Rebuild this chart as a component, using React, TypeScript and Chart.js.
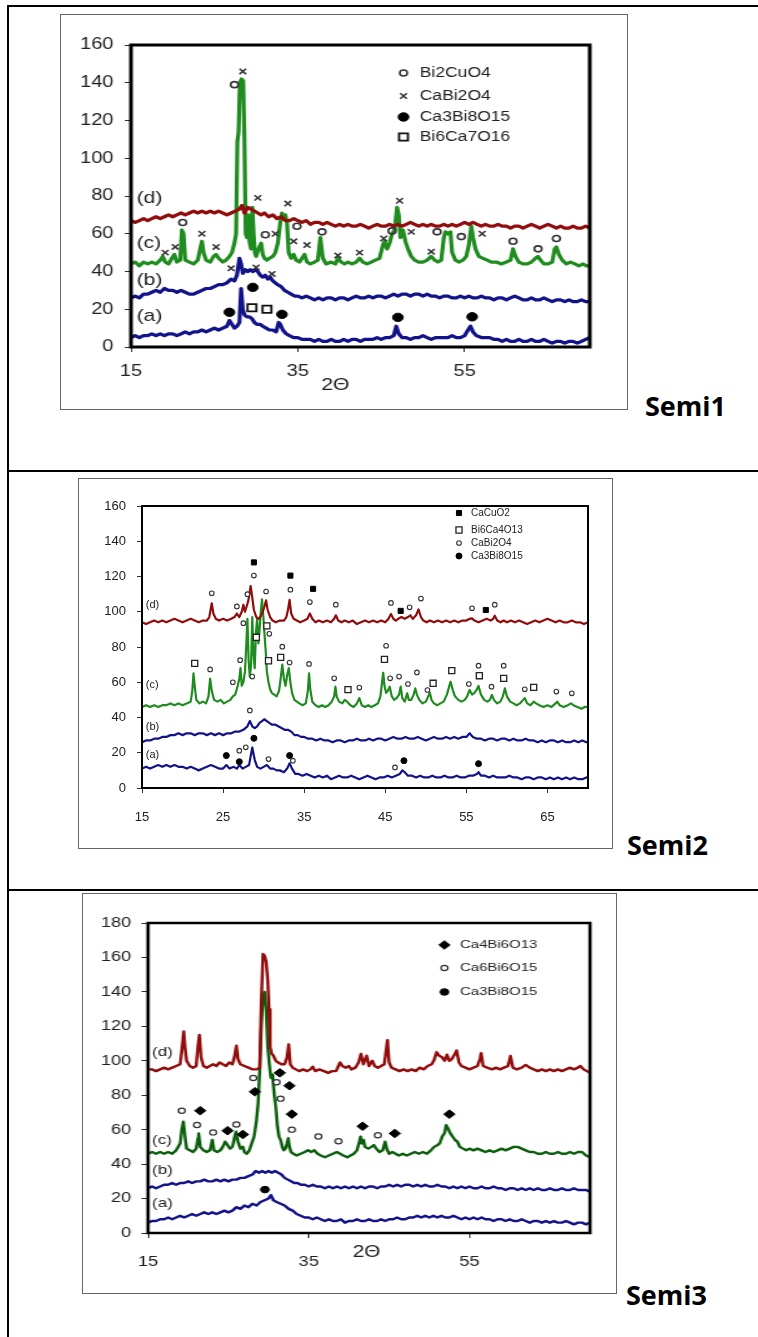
import { useEffect, useRef } from 'react';
import { Chart, registerables } from 'chart.js';
Chart.register(...registerables);

const FONT = '"Liberation Sans", Arial, Helvetica, sans-serif';

// ================= Semi1 data (x = 2θ, y = intensity) =================
const s1XTicks = [15, 35, 55];
const s1YTicks = [0, 20, 40, 60, 80, 100, 120, 140, 160];
const s1A = [15,5, 15.5,6, 16,5, 16.5,6, 17,6, 17.5,7, 18,6, 18.5,7, 19,6, 19.5,7, 20,7, 20.5,6, 21,7, 21.5,8, 22,7, 22.5,8, 23,8, 23.5,9, 24,8, 24.5,9, 25,10, 25.5,9, 26,10, 26.5,11, 26.8,14, 27.1,12, 27.4,10, 27.7,11, 28.0,13, 28.2,31, 28.4,20, 28.6,17, 28.9,16, 29.2,16, 29.5,15, 29.8,13, 30.1,12, 30.5,12, 30.8,11, 31.2,10, 31.6,9, 32.0,9, 32.4,8, 32.7,13, 32.9,12, 33.2,9, 33.6,7, 34,6, 34.5,5, 35,5, 35.5,4, 36,4, 36.5,4, 37,3, 37.5,4, 38,3, 38.5,3, 39,4, 39.5,3, 40,3, 40.5,4, 41,3, 41.5,4, 42,4, 42.5,3, 43,4, 43.5,4, 44,4, 44.5,5, 45,4, 45.5,5, 46,5, 46.5,6, 46.8,11, 47.1,7, 47.5,5, 48,5, 48.5,4, 49,5, 49.5,5, 50,6, 50.5,5, 51,4, 51.5,5, 52,5, 52.5,5, 53,5, 53.5,6, 54,5, 54.5,5, 55,6, 55.4,9, 55.7,11, 56.0,8, 56.4,6, 57,5, 57.5,5, 58,5, 58.5,4, 59,4, 59.5,3, 60,4, 60.5,3, 61,3, 61.5,4, 62,3, 62.5,3, 63,4, 63.5,3, 64,3, 64.5,4, 65,3, 65.5,2, 66,3, 66.5,3, 67,2, 67.5,3, 68,3, 68.5,2, 69,3, 69.5,4, 70,5];
const s1B = [15,26, 15.5,27, 16,26, 16.5,28, 17,28, 17.5,29, 18,30, 18.5,29, 19,31, 19.5,30, 20,30, 20.5,29, 21,30, 21.5,29, 22,28, 22.5,28, 23,29, 23.5,30, 24,31, 24.5,31, 25,32, 25.5,33, 26,33, 26.5,34, 27,36, 27.4,35, 27.7,38, 28.0,47, 28.2,44, 28.4,39, 28.7,41, 29.0,40, 29.3,41, 29.6,40, 29.9,41, 30.2,40, 30.5,38, 30.8,37, 31.1,38, 31.4,36, 31.7,37, 32.0,35, 32.3,34, 32.6,33, 33.0,32, 33.4,30, 33.8,29, 34.2,28, 34.6,27, 35,27, 35.5,26, 36,27, 36.5,26, 37,25, 37.5,26, 38,25, 38.5,26, 39,26, 39.5,25, 40,26, 40.5,26, 41,25, 41.5,26, 42,27, 42.5,26, 43,26, 43.5,27, 44,26, 44.5,27, 45,27, 45.5,26, 46,27, 46.5,28, 47,27, 47.5,28, 48,28, 48.5,27, 49,28, 49.5,28, 50,27, 50.5,28, 51,27, 51.5,27, 52,26, 52.5,27, 53,27, 53.5,26, 54,26, 54.5,27, 55,26, 55.5,27, 56,26, 56.5,26, 57,27, 57.5,26, 58,26, 58.5,25, 59,26, 59.5,26, 60,25, 60.5,26, 61,27, 61.5,26, 62,25, 62.5,25, 63,26, 63.5,25, 64,25, 64.5,26, 65,25, 65.5,24, 66,25, 66.5,25, 67,24, 67.5,25, 68,24, 68.5,24, 69,25, 69.5,24, 70,24];
const s1C = [15,44, 15.5,45, 16,43, 16.5,45, 17,44, 17.5,45, 18,44, 18.5,46, 18.8,48, 19.1,45, 19.5,44, 19.9,47, 20.2,49, 20.5,45, 20.9,46, 21.1,62, 21.3,60, 21.5,46, 22,45, 22.5,44, 23,46, 23.3,52, 23.5,56, 23.7,50, 24,46, 24.5,45, 24.9,48, 25.2,49, 25.5,47, 26,45, 26.4,46, 26.8,48, 27.1,50, 27.4,55, 27.6,60, 27.75,109, 27.9,114, 28.05,140, 28.25,142, 28.45,141, 28.6,110, 28.75,60, 28.9,58, 29.05,70, 29.2,56, 29.4,52, 29.55,74, 29.7,60, 29.85,50, 30.0,48, 30.3,52, 30.6,55, 30.8,49, 31.0,47, 31.3,46, 31.6,47, 32.0,48, 32.3,50, 32.6,55, 32.9,66, 33.1,71, 33.3,68, 33.5,70, 33.7,66, 33.9,50, 34.2,47, 34.5,49, 34.8,46, 35.2,45, 35.5,47, 35.8,49, 36.1,45, 36.5,44, 37,45, 37.4,46, 37.7,58, 38.0,47, 38.4,44, 39,45, 39.5,44, 39.8,47, 40.2,45, 40.6,44, 41,45, 41.5,44, 42,45, 42.4,47, 42.8,45, 43.3,44, 43.8,45, 44.3,46, 44.8,47, 45.2,54, 45.4,56, 45.7,52, 46.0,55, 46.3,60, 46.6,62, 46.9,74, 47.1,70, 47.3,58, 47.6,62, 47.9,56, 48.2,52, 48.6,48, 49,46, 49.5,45, 50,45, 50.5,46, 51,48, 51.4,46, 51.8,45, 52.2,46, 52.5,58, 52.7,61, 53.0,60, 53.3,61, 53.5,50, 53.9,46, 54.3,45, 54.8,46, 55.2,48, 55.5,54, 55.8,64, 56.0,58, 56.3,52, 56.7,48, 57.2,47, 57.7,46, 58.2,45, 58.8,45, 59.4,44, 60.0,45, 60.5,46, 60.8,52, 61.1,48, 61.5,45, 62,44, 62.5,44, 63,45, 63.5,47, 63.8,48, 64.1,46, 64.5,44, 65,44, 65.5,45, 65.8,52, 66.0,53, 66.3,49, 66.7,46, 67.2,44, 67.7,45, 68.2,44, 68.7,43, 69.2,44, 69.6,43, 70,43];
const s1D = [15,67, 15.5,66, 16,67, 16.5,68, 17,67, 17.5,68, 18,69, 18.5,68, 19,69, 19.5,70, 20,69, 20.5,70, 21,71, 21.5,70, 22,71, 22.5,72, 23,71, 23.5,72, 24,71, 24.5,72, 25,71, 25.5,72, 26,71, 26.5,70, 27,71, 27.5,72, 28,73, 28.3,75, 28.6,71, 29,74, 29.4,73, 29.8,72, 30.2,71, 30.6,70, 31,71, 31.5,69, 32,70, 32.5,68, 33,69, 33.5,67, 34,67, 34.5,68, 35,67, 35.5,66, 36,67, 36.5,65, 37,66, 37.5,66, 38,65, 38.5,66, 39,65, 39.5,64, 40,65, 40.5,64, 41,65, 41.5,64, 42,64, 42.5,65, 43,64, 43.5,63, 44,64, 44.5,65, 45,64, 45.5,64, 46,65, 46.5,64, 47,65, 47.5,64, 48,65, 48.5,66, 49,65, 49.5,64, 50,65, 50.5,64, 51,65, 51.5,64, 52,64, 52.5,65, 53,64, 53.5,65, 54,64, 54.5,65, 55,66, 55.5,65, 56,66, 56.5,65, 57,64, 57.5,65, 58,64, 58.5,64, 59,65, 59.5,64, 60,64, 60.5,63, 61,64, 61.5,64, 62,63, 62.5,64, 63,65, 63.5,64, 64,63, 64.5,64, 65,65, 65.5,64, 66,63, 66.5,64, 67,63, 67.5,63, 68,64, 68.5,63, 69,63, 69.5,64, 70,63];
const s1Bi2CuO4 = [21.2,66, 27.4,139, 31.1,59.5, 34.9,64, 37.9,61, 46.3,61.5, 51.7,61, 54.6,58.5, 60.8,56, 63.8,52, 66.0,57.5];
const s1CaBi2O4 = [19.1,50, 20.3,53, 23.5,60, 25.2,53, 28.4,146, 30.2,79, 32.3,60, 33.8,76, 34.5,56, 36.1,54, 39.8,48.5, 42.4,50, 45.3,57.5, 47.2,77.5, 48.6,61, 51.0,50.5, 57.1,60, 27.0,41.7, 30.0,42.2, 31.9,38.7];
const s1Ca3Bi8O15 = [26.8,18.4, 29.6,31.6, 33.1,17.3, 47.0,15.7, 55.9,16];
const s1Bi6Ca7O16 = [29.5,20.8, 31.3,20];

// ================= Semi2 data =================
const s2XTicks = [15, 25, 35, 45, 55, 65];
const s2YTicks = [0, 20, 40, 60, 80, 100, 120, 140, 160];
const s2A = [15,11, 15.5,12, 16,11, 16.5,12, 17,13, 17.5,12, 18,13, 18.5,12, 19,13, 19.5,12, 20,12, 20.5,11, 21,12, 21.5,11, 22,10, 22.5,11, 23,12, 23.5,13, 24,12, 24.5,11, 25,11, 25.4,13, 25.8,11, 26.3,12, 26.7,11, 27.0,13, 27.4,11, 27.8,12, 28.2,13, 28.6,23, 28.9,16, 29.2,12, 29.6,11, 30,12, 30.4,13, 30.8,11, 31.2,11, 31.6,10, 32,10, 32.5,9, 32.9,11, 33.2,14, 33.5,11, 33.9,8, 34.3,8, 34.8,7, 35.3,8, 35.8,7, 36.3,6, 36.8,7, 37.3,6, 37.8,7, 38.3,5, 38.8,6, 39.3,7, 39.8,6, 40.3,6, 40.8,7, 41.3,6, 41.8,5, 42.3,6, 42.8,7, 43.3,6, 43.8,5, 44.3,6, 44.8,6, 45.3,7, 45.8,6, 46.3,7, 46.8,8, 47.1,10, 47.4,9, 47.8,7, 48.3,7, 48.8,6, 49.3,7, 49.8,6, 50.3,6, 50.8,7, 51.3,6, 51.8,6, 52.3,7, 52.8,6, 53.3,6, 53.8,7, 54.3,6, 54.8,6, 55.3,7, 55.8,7, 56.3,8, 56.5,9, 56.8,7, 57.3,7, 57.8,6, 58.3,7, 58.8,6, 59.3,6, 59.8,6, 60.3,7, 60.8,6, 61.3,6, 61.8,5, 62.3,6, 62.8,6, 63.3,5, 63.8,6, 64.3,6, 64.8,5, 65.3,6, 65.8,5, 66.3,6, 66.8,5, 67.3,6, 67.8,5, 68.3,6, 68.8,5, 69.3,5, 69.8,6, 70,6];
const s2B = [15,26, 15.5,27, 16,27, 16.5,28, 17,28, 17.5,29, 18,29, 18.5,30, 19,30, 19.5,31, 20,30, 20.5,31, 21,31, 21.5,30, 22,31, 22.5,31, 23,30, 23.5,31, 24,30, 24.5,31, 25,30, 25.5,31, 26,31, 26.5,32, 27,32, 27.5,33, 28,35, 28.3,38, 28.6,35, 28.9,34, 29.2,35, 29.5,37, 29.8,38, 30.1,39, 30.4,38, 30.7,37, 31,36, 31.4,36, 31.8,35, 32.2,34, 32.6,33, 33,33, 33.4,32, 33.8,30, 34.2,30, 34.6,29, 35,29, 35.5,28, 36,28, 36.5,27, 37,28, 37.5,27, 38,27, 38.5,26, 39,27, 39.5,27, 40,26, 40.5,27, 41,27, 41.5,28, 42,27, 42.5,27, 43,28, 43.5,27, 44,28, 44.5,28, 45,27, 45.5,28, 46,29, 46.5,28, 47,28, 47.5,29, 48,28, 48.5,28, 49,29, 49.5,28, 50,27, 50.5,28, 51,29, 51.5,28, 52,28, 52.5,29, 53,28, 53.5,29, 54,28, 54.5,29, 55,29, 55.4,31, 55.8,29, 56.3,28, 56.8,28, 57.3,27, 57.8,28, 58.3,28, 58.8,27, 59.3,28, 59.8,28, 60.3,27, 60.8,28, 61.3,27, 61.8,27, 62.3,28, 62.8,27, 63.3,27, 63.8,26, 64.3,27, 64.8,26, 65.3,27, 65.8,27, 66.3,26, 66.8,27, 67.3,26, 67.8,26, 68.3,27, 68.8,26, 69.3,27, 69.8,26, 70,26];
const s2C = [15,46, 15.5,47, 16,46, 16.5,47, 17,46, 17.5,47, 18,47, 18.5,48, 19,47, 19.5,48, 20,47, 20.5,48, 21,49, 21.2,55, 21.35,65, 21.5,58, 21.7,50, 22.1,48, 22.5,49, 22.9,48, 23.2,52, 23.4,62, 23.6,55, 23.9,50, 24.3,49, 24.7,50, 25.1,48, 25.5,49, 25.9,50, 26.2,52, 26.5,53, 26.8,58, 27.0,62, 27.15,68, 27.3,58, 27.5,60, 27.7,66, 27.85,80, 28.0,96, 28.15,72, 28.3,63, 28.45,70, 28.6,97, 28.75,76, 28.9,68, 29.05,88, 29.2,96, 29.35,82, 29.5,90, 29.65,100, 29.8,107, 29.95,98, 30.1,88, 30.25,78, 30.4,66, 30.6,60, 30.8,56, 31.0,54, 31.3,53, 31.6,52, 31.9,55, 32.1,62, 32.3,70, 32.5,62, 32.7,58, 32.9,64, 33.1,68, 33.3,60, 33.5,54, 33.8,50, 34.1,49, 34.4,48, 34.8,47, 35.2,48, 35.45,55, 35.6,65, 35.75,56, 36.0,49, 36.4,47, 36.8,46, 37.2,47, 37.6,46, 38.0,47, 38.4,49, 38.7,52, 38.85,57.5, 39.0,52, 39.3,49, 39.7,48, 40.0,50, 40.3,49, 40.7,47, 41.1,46, 41.5,48, 41.8,51, 42.1,47, 42.5,46, 42.9,47, 43.3,46, 43.7,47, 44.1,48, 44.4,52, 44.6,60, 44.75,65.4, 44.9,58, 45.1,54, 45.3,55, 45.55,57.5, 45.8,52, 46.1,50, 46.4,51, 46.7,53, 46.9,57.5, 47.1,51, 47.4,49, 47.7,53.7, 47.9,50, 48.2,50, 48.5,53, 48.7,56.5, 48.9,53, 49.2,50, 49.6,48, 50.0,49, 50.3,52, 50.5,54, 50.7,50, 51.0,48, 51.4,47, 51.8,48, 52.2,49, 52.6,53, 52.9,58, 53.05,60.3, 53.3,56, 53.6,52, 54.0,50, 54.4,49, 54.8,50, 55.1,52, 55.4,55.6, 55.7,53, 56.0,54, 56.3,56, 56.5,57.9, 56.8,53, 57.2,50, 57.6,49, 57.9,50, 58.15,52.8, 58.4,50, 58.8,48, 59.2,49, 59.5,52, 59.75,56.5, 60.0,52, 60.4,49, 60.8,48, 61.2,47, 61.6,48, 62.0,50, 62.2,51, 62.5,48, 62.9,47, 63.3,49, 63.6,48, 64.0,47, 64.5,46, 65.0,47, 65.5,46, 66.0,48, 66.2,49, 66.5,47, 67.0,46, 67.5,47, 67.9,48, 68.2,47, 68.7,46, 69.2,45, 69.6,46, 70,46];
const s2D = [15,94, 15.5,93, 16,94, 16.5,95, 17,94, 17.5,95, 18,94, 18.5,95, 19,96, 19.5,95, 20,94, 20.5,95, 21,96, 21.5,95, 22,94, 22.5,95, 23,95, 23.3,97, 23.6,104.8, 23.8,99, 24.1,96, 24.5,95, 25,96, 25.5,95, 26,96, 26.4,97, 26.7,99, 27.0,97, 27.3,100, 27.5,104, 27.7,100, 27.9,103, 28.1,106, 28.4,114.6, 28.6,108, 28.8,101, 29.1,97, 29.4,96, 29.7,98, 29.9,100, 30.1,103, 30.3,106.5, 30.5,101, 30.8,97, 31.1,95, 31.5,94, 32,95, 32.5,95, 32.8,97, 33.0,101, 33.2,106.7, 33.4,99, 33.7,96, 34.1,95, 34.5,94, 35,95, 35.4,96, 35.7,99, 36.0,96, 36.4,94, 36.8,95, 37.3,94, 37.8,95, 38.3,94, 38.7,96, 38.9,98, 39.2,95, 39.6,94, 40,95, 40.5,94, 41,95, 41.5,93, 42,94, 42.5,95, 43,94, 43.5,95, 44,94, 44.5,95, 45,94, 45.4,96, 45.7,98.7, 46.0,96, 46.3,95, 46.6,96, 47.0,97, 47.4,96, 47.8,97, 48.1,98, 48.4,96, 48.8,98, 49.1,101.3, 49.4,97, 49.7,95, 50.1,94, 50.5,95, 51,94, 51.5,95, 52,94, 52.5,95, 53,94, 53.5,95, 54,94, 54.5,95, 55,95, 55.4,96, 55.7,96.2, 56.0,95, 56.5,94, 57,95, 57.5,96, 58,95, 58.3,96, 58.5,97.8, 58.8,95, 59.2,94, 59.6,95, 60,94, 60.5,95, 61,94, 61.5,95, 62,94, 62.5,93, 63,94, 63.5,95, 64,94, 64.5,95, 65,96, 65.5,95, 66,94, 66.5,95, 67,94, 67.5,94, 68,95, 68.5,94, 69,94, 69.5,93, 70,94];
const s2CaCuO2 = [28.8,128, 33.3,120.5, 36.1,113, 46.9,100.5, 57.4,101];
const s2Bi6Ca4O13 = [21.5,70.7, 29.1,85.5, 30.4,92, 30.6,72.2, 32.1,74.1, 40.4,55.8, 44.9,73, 50.9,59.4, 53.2,66.6, 56.6,63.7, 59.6,62.2, 63.3,57.1];
const s2CaBi2O4 = [23.6,110.5, 26.7,103, 28.0,110, 28.8,120.5, 30.3,111.5, 33.3,112.5, 35.7,105.5, 38.9,104, 45.7,105, 48.0,102.5, 49.4,107.5, 55.7,102, 58.5,104,
  23.4,67.3, 26.2,60, 27.1,72.5, 27.5,93.5, 28.6,63.2, 30.7,87.5, 32.3,80.2, 33.2,71.2, 35.6,70.4, 38.7,62.2, 41.8,57, 45.1,80.7, 45.6,62.2, 46.7,63.2, 47.8,59, 48.9,65.6, 50.2,55.6, 55.3,59, 56.5,69.4, 58.1,57.5, 59.6,69.4, 62.2,56, 66.1,54.7, 68.0,53.7,
  28.3,44, 27.0,21.2, 27.8,23.1, 30.6,16.4, 33.6,15.5, 46.2,11.7];
const s2Ca3Bi8O15 = [25.4,18.4, 27.0,14.9, 28.8,28.2, 33.2,18.4, 47.3,15.5, 56.5,13.8];

// ================= Semi3 data =================
const s3XTicks = [15, 35, 55];
const s3YTicks = [0, 20, 40, 60, 80, 100, 120, 140, 160, 180];
const s3A = [15,6, 15.5,7, 16,7, 16.5,8, 17,8, 17.5,9, 18,8, 18.5,9, 19,10, 19.5,9, 20,10, 20.5,11, 21,10, 21.5,11, 22,12, 22.5,11, 23,12, 23.5,11, 24,12, 24.5,13, 25,12, 25.5,13, 26,15, 26.5,14, 27,16, 27.5,15, 28,17, 28.5,16, 29,18, 29.5,19, 30,20, 30.3,22, 30.6,19, 31,18, 31.5,17, 32,16, 32.5,14, 33,13, 33.5,11, 34,10, 34.5,9, 35,9, 35.5,8, 36,9, 36.5,8, 37,7, 37.5,8, 38,7, 38.5,7, 39,8, 39.5,6, 40,7, 40.5,7, 41,8, 41.5,7, 42,7, 42.5,8, 43,7, 43.5,7, 44,8, 44.5,7, 45,8, 45.5,8, 46,9, 46.5,8, 47,8, 47.5,9, 48,9, 48.5,10, 49,9, 49.5,10, 50,9, 50.5,10, 51,9, 51.5,10, 52,9, 52.5,9, 53,10, 53.5,9, 54,8, 54.5,9, 55,8, 55.5,9, 56,8, 56.5,9, 57,8, 57.5,8, 58,7, 58.5,8, 59,8, 59.5,7, 60,8, 60.5,7, 61,7, 61.5,8, 62,7, 62.5,6, 63,7, 63.5,7, 64,6, 64.5,7, 65,6, 65.5,7, 66,6, 66.5,6, 67,7, 67.5,6, 68,5, 68.5,6, 69,6, 69.5,5, 70,6];
const s3B = [15,26, 15.5,27, 16,26, 16.5,27, 17,28, 17.5,28, 18,29, 18.5,28, 19,29, 19.5,29, 20,30, 20.5,29, 21,30, 21.5,30, 22,31, 22.5,30, 23,30, 23.5,31, 24,30, 24.5,31, 25,30, 25.5,31, 26,31, 26.5,32, 27,32, 27.5,33, 28,34, 28.4,36, 28.8,35, 29.2,36, 29.6,35, 30,36, 30.4,35, 30.8,36, 31.2,35, 31.6,34, 32,32, 32.4,31, 32.8,30, 33.2,29, 33.6,29, 34,28, 34.5,28, 35,27, 35.5,28, 36,27, 36.5,27, 37,26, 37.5,27, 38,26, 38.5,27, 39,26, 39.5,27, 40,26, 40.5,27, 41,26, 41.5,27, 42,26, 42.5,27, 43,27, 43.5,26, 44,27, 44.5,27, 45,28, 45.5,27, 46,28, 46.5,27, 47,28, 47.5,28, 48,27, 48.5,28, 49,27, 49.5,28, 50,27, 50.5,27, 51,28, 51.5,27, 52,27, 52.5,26, 53,27, 53.5,26, 54,27, 54.5,26, 55,27, 55.5,26, 56,26, 56.5,27, 57,26, 57.5,26, 58,27, 58.5,26, 59,26, 59.5,25, 60,26, 60.5,26, 61,25, 61.5,26, 62,25, 62.5,26, 63,25, 63.5,26, 64,25, 64.5,25, 65,26, 65.5,25, 66,25, 66.5,26, 67,25, 67.5,25, 68,26, 68.5,25, 69,25, 69.5,25, 70,24];
const s3C = [15,46, 15.5,47, 16,46, 16.5,47, 17,46, 17.5,47, 18,46, 18.5,48, 19.0,52, 19.2,60, 19.4,64.6, 19.6,56, 19.8,49, 20.2,48, 20.6,47, 21.0,49, 21.2,55, 21.3,57.8, 21.5,50, 21.9,48, 22.3,47, 22.7,48, 22.9,52, 23.0,54, 23.2,48, 23.6,47, 24.0,48, 24.3,50, 24.6,53, 24.9,51, 25.2,49, 25.5,50, 25.8,56, 25.95,58.8, 26.2,53, 26.5,49, 26.8,50, 27.0,47, 27.3,46, 27.6,48, 27.9,52, 28.2,56, 28.5,65.6, 28.7,75, 28.9,95, 29.1,120, 29.3,136, 29.5,140, 29.7,130, 29.9,108, 30.1,98, 30.3,90, 30.5,92, 30.7,81, 30.9,73, 31.1,62, 31.3,56, 31.5,54, 31.7,50, 31.9,48, 32.1,49, 32.3,52, 32.45,55, 32.6,50, 32.8,47, 33.1,46, 33.5,45, 34,46, 34.5,47, 34.9,48, 35.3,47, 35.7,48, 36.1,46, 36.5,45, 37,44, 37.5,45, 38,46, 38.5,47, 38.9,46, 39.3,45, 39.8,44, 40.2,45, 40.6,46, 41.0,48, 41.3,53, 41.45,55.9, 41.6,52, 41.8,54, 42.0,50, 42.4,49, 42.8,50, 43.1,51, 43.4,49, 43.8,47, 44.2,48, 44.5,53, 44.7,49, 45.0,46, 45.4,47, 45.8,46, 46.2,45, 46.7,46, 47.2,45, 47.7,46, 48.2,47, 48.7,46, 49.2,47, 49.7,46, 50.2,48, 50.6,50, 51.0,51, 51.3,52, 51.6,56, 51.9,58, 52.1,62.6, 52.3,61, 52.6,58, 52.9,56, 53.2,54, 53.5,53, 53.8,50, 54.2,49, 54.6,48, 55.0,49, 55.5,48, 56,49, 56.5,48, 57,47, 57.5,48, 58,47, 58.5,48, 59,49, 59.5,48, 60,49, 60.5,50, 61,50, 61.5,49, 62,48, 62.5,47, 63,47, 63.5,46, 64,46, 64.5,47, 65,46, 65.5,46, 66,47, 66.5,46, 67,46, 67.5,47, 68,46, 68.5,47, 69,47, 69.5,45, 70,44];
const s3D = [15,95, 15.5,95, 16,94, 16.5,95, 17,96, 17.5,95, 18,96, 18.5,97, 19.0,98, 19.3,110, 19.45,117, 19.6,108, 19.8,100, 20.2,97, 20.6,96, 21.0,97, 21.2,108, 21.4,115, 21.6,102, 21.9,97, 22.3,96, 22.7,97, 23.1,98, 23.5,97, 23.9,99, 24.3,98, 24.7,97, 25.1,99, 25.5,98, 25.8,103, 26.0,108.8, 26.2,101, 26.5,98, 27,97, 27.5,96, 28,95, 28.5,95, 28.9,96, 29.1,134, 29.3,162, 29.5,161, 29.7,157.7, 29.9,147, 30.05,130, 30.2,108, 30.4,104, 30.6,103, 30.9,100, 31.2,99, 31.6,98, 32.0,98, 32.3,102, 32.5,109.5, 32.7,98, 33.0,96, 33.4,95, 33.8,94, 34.3,95, 34.8,94, 35.2,95, 35.5,96.5, 35.8,94, 36.3,95, 36.9,94, 37.4,93, 37.9,94, 38.4,94, 38.9,99, 39.2,97, 39.6,96, 40.0,97, 40.3,95, 40.8,96, 41.2,99, 41.5,104, 41.8,98, 42.2,103, 42.5,97, 42.9,100, 43.2,97, 43.6,96, 44.0,97, 44.4,98, 44.6,105, 44.8,112, 45.0,99, 45.3,96, 45.8,95, 46.3,94, 46.8,95, 47.3,94, 47.8,95, 48.3,94, 48.8,96, 49.3,95, 49.8,97, 50.3,98, 50.6,100.5, 50.9,105, 51.2,103, 51.6,102, 51.9,100, 52.2,103.5, 52.5,100, 52.8,101, 53.2,104, 53.4,106, 53.7,99, 54.0,97, 54.5,96, 55.0,95, 55.5,96, 56.0,97, 56.3,101, 56.45,104.4, 56.7,97, 57.2,96, 57.8,95, 58.3,96, 58.8,95, 59.3,96, 59.8,97, 60.1,102.8, 60.4,96, 60.9,95, 61.5,96, 62.0,97.6, 62.5,96, 63,95, 63.5,94, 64,95, 64.5,94, 65,95, 65.5,94, 66,95, 66.5,94, 67,95, 67.5,96, 68,95, 68.5,96, 68.8,97, 69.2,95, 69.6,94, 70,93];
const s3Ca4Bi6O13 = [21.5,71, 24.9,59.4, 26.8,57.2, 28.3,82, 31.4,93, 32.6,85.5, 32.9,69, 41.7,62, 45.7,57.8, 52.5,69];
const s3Ca6Bi6O15 = [19.2,71, 21.1,62.7, 23.1,58.4, 26.0,63, 28.1,90, 31.0,87.5, 31.5,78, 32.9,60, 36.2,56, 38.7,53.3, 43.6,56.8];
const s3Ca3Bi8O15 = [29.55,25.2];

// ================= helpers =================
const toPts = (flat: number[]) => {
  const out: { x: number; y: number }[] = [];
  for (let i = 0; i < flat.length; i += 2) out.push({ x: flat[i], y: flat[i + 1] });
  return out;
};

type Sym = { style: string; r: number; fill: string; stroke: string; lw: number };

function drawSym(ctx: CanvasRenderingContext2D, s: Sym, x: number, y: number) {
  ctx.save();
  ctx.beginPath();
  ctx.lineWidth = s.lw;
  ctx.strokeStyle = s.stroke;
  ctx.fillStyle = s.fill;
  if (s.style === 'circle') {
    ctx.arc(x, y, s.r, 0, Math.PI * 2);
    ctx.fill();
    ctx.stroke();
  } else if (s.style === 'rect') {
    const h = s.r * Math.SQRT1_2;
    ctx.rect(x - h, y - h, 2 * h, 2 * h);
    ctx.fill();
    ctx.stroke();
  } else if (s.style === 'rectRot') {
    ctx.moveTo(x - s.r, y);
    ctx.lineTo(x, y - s.r);
    ctx.lineTo(x + s.r, y);
    ctx.lineTo(x, y + s.r);
    ctx.closePath();
    ctx.fill();
    ctx.stroke();
  } else if (s.style === 'crossRot') {
    const d = s.r * Math.SQRT1_2;
    ctx.moveTo(x - d, y - d);
    ctx.lineTo(x + d, y + d);
    ctx.moveTo(x - d, y + d);
    ctx.lineTo(x + d, y - d);
    ctx.stroke();
  }
  ctx.restore();
}

const NAVY = '#12128a';
const RED = '#920c0c';
const GREEN = '#1f8c1f';
const DGREEN = '#0b5e0b';

type Spec = {
  box: { left: number; top: number; w: number; h: number };
  k: number;
  W: number;
  H: number;
  yAxisW: number;
  xAxisH: number;
  padTop: number;
  padRight: number;
  yMax: number;
  xTicks: number[];
  yTicks: number[];
  tickSize: number;
  yPad: number;
  xPad: number;
  lineW: number;
  frameW: number;
  series: { data: number[]; color: string }[];
  markers: { data: number[]; sym: Sym; label: string }[];
  legendOrder: number[];
  legend: { symX: number; textX: number; ys: number[]; size: number };
  curveLabels: { text: string; x: number; y: number }[];
  labelSize: number;
  title?: { text: string; x: number; dy: number; size: number };
};

function makeConfig(spec: Spec): any {
  const datasets: any[] = [];
  spec.markers.forEach((m) => {
    datasets.push({
      data: toPts(m.data),
      showLine: false,
      pointStyle: m.sym.style,
      pointRadius: m.sym.r,
      pointHoverRadius: m.sym.r,
      pointBackgroundColor: m.sym.fill,
      pointBorderColor: m.sym.stroke,
      pointBorderWidth: m.sym.lw,
    });
  });
  // last series (d) on top → push in reverse order
  [...spec.series].reverse().forEach((s) => {
    datasets.push({
      data: toPts(s.data),
      showLine: true,
      borderColor: s.color,
      backgroundColor: s.color,
      borderWidth: spec.lineW,
      pointRadius: 0,
      pointHoverRadius: 0,
      tension: 0,
      fill: false,
      borderJoinStyle: 'round',
    });
  });

  const decor = {
    id: 'decor',
    afterDraw(chart: any) {
      const { ctx, chartArea: a, scales } = chart;
      const xs = scales.x;
      const ys = scales.y;
      ctx.save();
      ctx.strokeStyle = '#000';
      ctx.lineWidth = spec.frameW;
      ctx.strokeRect(a.left, a.top, a.right - a.left, a.bottom - a.top);
      ctx.fillStyle = '#222';
      ctx.textBaseline = 'middle';
      ctx.textAlign = 'left';
      ctx.font = `${spec.labelSize}px ${FONT}`;
      spec.curveLabels.forEach((c) => {
        ctx.fillText(c.text, xs.getPixelForValue(c.x), ys.getPixelForValue(c.y));
      });
      if (spec.title) {
        ctx.font = `${spec.title.size}px ${FONT}`;
        ctx.textAlign = 'center';
        ctx.fillText(spec.title.text, xs.getPixelForValue(spec.title.x), a.bottom + spec.title.dy);
      }
      ctx.font = `${spec.legend.size}px ${FONT}`;
      ctx.textAlign = 'left';
      spec.legendOrder.forEach((mi, i) => {
        const m = spec.markers[mi];
        const y = spec.legend.ys[i];
        drawSym(ctx, m.sym, spec.legend.symX, y);
        ctx.fillStyle = '#222';
        ctx.fillText(m.label, spec.legend.textX, y);
      });
      ctx.restore();
    },
  };

  const tickFont = { family: FONT, size: spec.tickSize };
  return {
    type: 'scatter',
    data: { datasets },
    plugins: [decor],
    options: {
      responsive: false,
      animation: false,
      events: [],
      layout: { padding: { left: 0, right: spec.padRight, top: spec.padTop, bottom: 0 }, autoPadding: false },
      plugins: { legend: { display: false }, tooltip: { enabled: false } },
      scales: {
        x: {
          type: 'linear',
          min: 15,
          max: 70,
          afterBuildTicks: (s: any) => {
            s.ticks = spec.xTicks.map((v) => ({ value: v }));
          },
          afterFit: (s: any) => {
            s.height = spec.xAxisH;
          },
          grid: { display: true, drawOnChartArea: false, drawTicks: true, tickLength: 5, color: '#333', lineWidth: 1 },
          border: { display: false },
          ticks: { font: tickFont, color: '#222', padding: spec.xPad, maxRotation: 0, autoSkip: false },
        },
        y: {
          type: 'linear',
          min: 0,
          max: spec.yMax,
          afterBuildTicks: (s: any) => {
            s.ticks = spec.yTicks.map((v) => ({ value: v }));
          },
          afterFit: (s: any) => {
            s.width = spec.yAxisW;
          },
          grid: { display: true, drawOnChartArea: false, drawTicks: true, tickLength: 5, color: '#333', lineWidth: 1 },
          border: { display: false },
          ticks: { font: tickFont, color: '#222', padding: spec.yPad, autoSkip: false },
        },
      },
    },
  };
}

function XrdPanel({ spec }: { spec: Spec }) {
  const ref = useRef<HTMLCanvasElement | null>(null);
  useEffect(() => {
    if (!ref.current) return;
    const chart = new Chart(ref.current, makeConfig(spec));
    return () => chart.destroy();
  }, [spec]);
  const b = spec.box;
  return (
    <div
      style={{
        position: 'absolute',
        left: b.left,
        top: b.top,
        width: b.w,
        height: b.h,
        border: '1px solid #666',
        boxSizing: 'border-box',
        background: '#fff',
      }}
    >
      <canvas
        ref={ref}
        width={spec.W}
        height={spec.H}
        style={{ position: 'absolute', left: 0, top: 0, transform: `scaleX(${spec.k})`, transformOrigin: '0 0' }}
      />
    </div>
  );
}

const o1: Sym = { style: 'circle', r: 3, fill: 'rgba(0,0,0,0)', stroke: '#333', lw: 1.6 };
const x1: Sym = { style: 'crossRot', r: 3.8, fill: 'rgba(0,0,0,0)', stroke: '#333', lw: 1.5 };
const dot1: Sym = { style: 'circle', r: 4.2, fill: '#000', stroke: '#000', lw: 1 };
const sq1: Sym = { style: 'rect', r: 5, fill: '#fff', stroke: '#111', lw: 1.8 };

const spec1: Spec = {
  box: { left: 60, top: 14, w: 568, h: 396 },
  k: 1.25, W: 453, H: 394, yAxisW: 56, xAxisH: 62, padTop: 30, padRight: 30,
  yMax: 160, xTicks: s1XTicks, yTicks: s1YTicks, tickSize: 16, yPad: 9, xPad: 10,
  lineW: 3.2, frameW: 3,
  series: [
    { data: s1A, color: NAVY },
    { data: s1B, color: NAVY },
    { data: s1C, color: GREEN },
    { data: s1D, color: RED },
  ],
  markers: [
    { data: s1Bi2CuO4, sym: o1, label: 'Bi2CuO4' },
    { data: s1CaBi2O4, sym: x1, label: 'CaBi2O4' },
    { data: s1Ca3Bi8O15, sym: dot1, label: 'Ca3Bi8O15' },
    { data: s1Bi6Ca7O16, sym: sq1, label: 'Bi6Ca7O16' },
  ],
  legendOrder: [0, 1, 2, 3],
  legend: { symX: 274, textX: 287, ys: [58, 81, 102, 122], size: 14 },
  curveLabels: [
    { text: '(d)', x: 15.66, y: 79 },
    { text: '(c)', x: 15.66, y: 55 },
    { text: '(b)', x: 15.66, y: 35.5 },
    { text: '(a)', x: 15.66, y: 16 },
  ],
  labelSize: 17,
  title: { text: '2Θ', x: 39.5, dy: 38, size: 17 },
};

const sqF2: Sym = { style: 'rect', r: 3.6, fill: '#000', stroke: '#000', lw: 1 };
const sq2: Sym = { style: 'rect', r: 4.3, fill: '#fff', stroke: '#222', lw: 1.3 };
const o2: Sym = { style: 'circle', r: 2.3, fill: '#fff', stroke: '#333', lw: 1.1 };
const dot2: Sym = { style: 'circle', r: 3, fill: '#000', stroke: '#000', lw: 1 };

const spec2: Spec = {
  box: { left: 78, top: 478, w: 535, h: 371 },
  k: 1, W: 533, H: 369, yAxisW: 63, xAxisH: 60, padTop: 27, padRight: 24,
  yMax: 160, xTicks: s2XTicks, yTicks: s2YTicks, tickSize: 13, yPad: 11, xPad: 17,
  lineW: 2.2, frameW: 2,
  series: [
    { data: s2A, color: NAVY },
    { data: s2B, color: NAVY },
    { data: s2C, color: GREEN },
    { data: s2D, color: RED },
  ],
  markers: [
    { data: s2CaCuO2, sym: sqF2, label: 'CaCuO2' },
    { data: s2Bi6Ca4O13, sym: sq2, label: 'Bi6Ca4O13' },
    { data: s2CaBi2O4, sym: o2, label: 'CaBi2O4' },
    { data: s2Ca3Bi8O15, sym: dot2, label: 'Ca3Bi8O15' },
  ],
  legendOrder: [0, 1, 2, 3],
  legend: { symX: 380, textX: 392, ys: [34, 51, 64, 77], size: 10 },
  curveLabels: [
    { text: '(d)', x: 15.47, y: 104 },
    { text: '(c)', x: 15.47, y: 58.4 },
    { text: '(b)', x: 15.47, y: 34.8 },
    { text: '(a)', x: 15.47, y: 18.7 },
  ],
  labelSize: 11,
};

const dia3: Sym = { style: 'rectRot', r: 4.3, fill: '#000', stroke: '#000', lw: 1 };
const o3: Sym = { style: 'circle', r: 2.6, fill: '#fff', stroke: '#333', lw: 1.2 };
const dot3: Sym = { style: 'circle', r: 3.3, fill: '#000', stroke: '#000', lw: 1 };

const spec3: Spec = {
  box: { left: 82, top: 893, w: 535, h: 401 },
  k: 1.3, W: 410, H: 399, yAxisW: 50, xAxisH: 60, padTop: 29, padRight: 20,
  yMax: 180, xTicks: s3XTicks, yTicks: s3YTicks, tickSize: 14, yPad: 8, xPad: 16,
  lineW: 2.4, frameW: 2.5,
  series: [
    { data: s3A, color: NAVY },
    { data: s3B, color: NAVY },
    { data: s3C, color: DGREEN },
    { data: s3D, color: RED },
  ],
  markers: [
    { data: s3Ca4Bi6O13, sym: dia3, label: 'Ca4Bi6O13' },
    { data: s3Ca6Bi6O15, sym: o3, label: 'Ca6Bi6O15' },
    { data: s3Ca3Bi8O15, sym: dot3, label: 'Ca3Bi8O15' },
  ],
  legendOrder: [0, 1, 2],
  legend: { symX: 278, textX: 290, ys: [51, 74, 98], size: 11.5 },
  curveLabels: [
    { text: '(d)', x: 15.5, y: 104.7 },
    { text: '(c)', x: 15.5, y: 53.9 },
    { text: '(b)', x: 15.5, y: 36.1 },
    { text: '(a)', x: 15.5, y: 17.1 },
  ],
  labelSize: 13,
  title: { text: '2Θ', x: 42.2, dy: 20, size: 16 },
};

const semiStyle = (left: number, top: number): any => ({
  position: 'absolute',
  left,
  top,
  fontFamily: '"Open Sans", "Noto Sans", sans-serif',
  fontWeight: 700,
  fontSize: 27,
  lineHeight: '27px',
  color: '#000',
  whiteSpace: 'nowrap',
});

export default function App() {
  return (
    <div style={{ position: 'absolute', left: 0, top: 0, width: 758, height: 1337, overflow: 'hidden', background: '#fff' }}>
      <div style={{ position: 'absolute', left: 7, top: 5, width: 2, height: 1332, background: '#000' }} />
      <div style={{ position: 'absolute', left: 7, top: 5, width: 751, height: 2, background: '#000' }} />
      <div style={{ position: 'absolute', left: 7, top: 470, width: 751, height: 2, background: '#000' }} />
      <div style={{ position: 'absolute', left: 7, top: 889, width: 751, height: 2, background: '#000' }} />
      <XrdPanel spec={spec1} />
      <XrdPanel spec={spec2} />
      <XrdPanel spec={spec3} />
      <div style={semiStyle(645, 392)}>Semi1</div>
      <div style={semiStyle(627, 831)}>Semi2</div>
      <div style={semiStyle(626, 1281)}>Semi3</div>
    </div>
  );
}
